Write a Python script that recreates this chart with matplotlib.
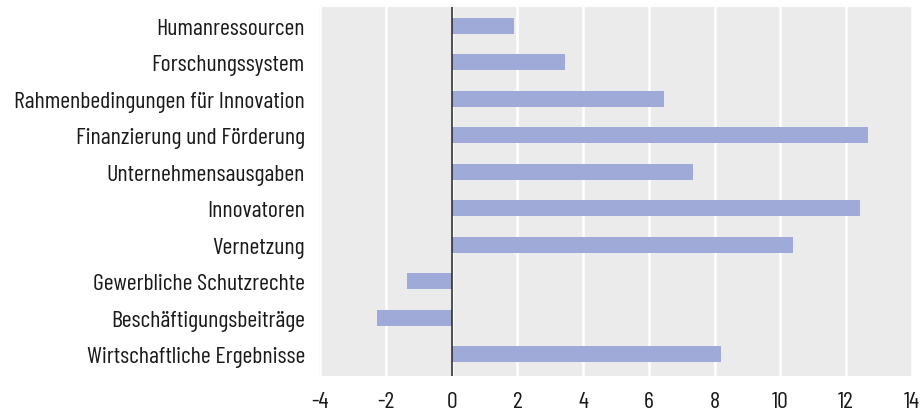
import matplotlib.pyplot as plt

categories = ['Humanressourcen', 'Forschungssystem', 'Rahmenbedingungen für Innovation',
              'Finanzierung und Förderung', 'Unternehmensausgaben', 'Innovatoren',
              'Vernetzung', 'Gewerbliche Schutzrechte', 'Beschäftigungsbeiträge',
              'Wirtschaftliche Ergebnisse']
values = [1.9, 3.45, 6.45, 12.68, 7.35, 12.42, 10.37, -1.35, -2.26, 8.18]
xticks = [-4, -2, 0, 2, 4, 6, 8, 10, 12, 14]

plt.rcParams['font.family'] = ['Barlow Condensed', 'DejaVu Sans']

fig = plt.figure(figsize=(9.21, 4.14), dpi=100)
ax = fig.add_axes([0.346, 0.089, 0.644, 0.892])
ax.set_facecolor('#ebebeb')

ypos = list(range(len(categories)))
ax.barh(ypos, values, height=0.44, color='#a0aad8', zorder=3)
ax.axvline(0, color='#222222', lw=1.1, zorder=4)

ax.set_xlim(-4.05, 14)
ax.set_ylim(9.6, -0.52)
ax.set_xticks(xticks)
ax.set_xticklabels([str(t) for t in xticks])
ax.set_yticks(ypos)
ax.set_yticklabels(categories)
ax.grid(axis='x', color='white', lw=1.8, zorder=1)
ax.set_axisbelow(True)
for s in ax.spines.values():
    s.set_visible(False)
ax.tick_params(length=0, labelsize=17.2, colors='#1a1a1a')
ax.tick_params(axis='x', pad=11)
ax.tick_params(axis='y', pad=10)

fig.savefig('out.png', dpi=100)
